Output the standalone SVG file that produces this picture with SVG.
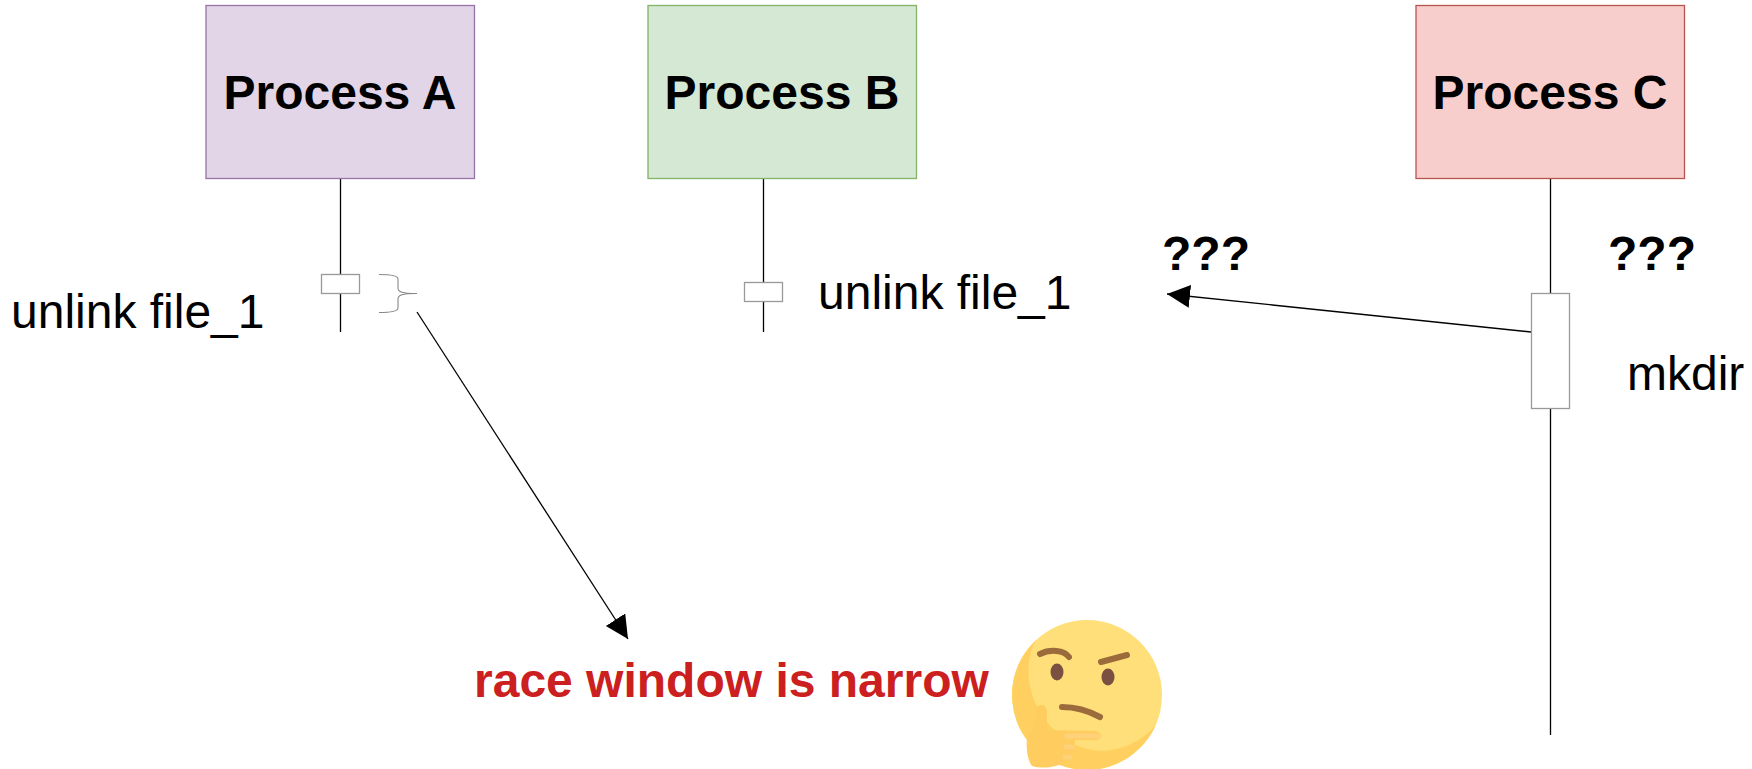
<svg xmlns="http://www.w3.org/2000/svg" width="1752" height="769" viewBox="0 0 1752 769">
<style>
text{font-family:"Liberation Sans",Arial,sans-serif;font-size:48px;fill:#000}
.b{font-weight:bold}
.l{stroke:#000;stroke-width:1.3;fill:none}
.a{fill:#fff;stroke:#999;stroke-width:1.3}
.h{stroke-width:1.3}
</style>
<defs><marker id="arr" markerUnits="userSpaceOnUse" markerWidth="26" markerHeight="26" refX="23" refY="11.500" orient="auto"><path d="M0 0L23 11.500L0 23Z" fill="#000"/></marker></defs>
<rect width="1752" height="769" fill="#fff"/>
<g id="connectors">
<path class="l" d="M340.500 178V332"/>
<path class="l" d="M763.500 178V332"/>
<path class="l" d="M1550.500 178V735"/>
<path class="l" marker-end="url(#arr)" d="M1531 332L1167 294"/>
<path class="l" marker-end="url(#arr)" d="M417 312L628 639"/>
</g>
<g id="process-a"><rect class="h" x="206" y="5.500" width="268.500" height="173" fill="#e1d5e7" stroke="#9673a6"/><text class="b" x="340" y="109" text-anchor="middle">Process A</text></g>
<g id="process-b"><rect class="h" x="648" y="5.500" width="268.500" height="173" fill="#d5e8d4" stroke="#82b366"/><text class="b" x="782" y="109" text-anchor="middle">Process B</text></g>
<g id="process-c"><rect class="h" x="1416" y="5.500" width="268.500" height="173" fill="#f8cecc" stroke="#b85450"/><text class="b" x="1550" y="109" text-anchor="middle">Process C</text></g>
<g id="activation-a"><rect class="a" x="321.500" y="274.500" width="38" height="19"/></g>
<g id="activation-b"><rect class="a" x="744.500" y="282.500" width="38" height="19"/></g>
<g id="activation-c"><rect class="a" x="1531.500" y="293.500" width="38" height="115"/></g>
<g id="brace"><path d="M379 274.500C389 274.500 398 275 398 279V288C398 292 402 293.500 417 293.500C402 293.500 398 295 398 299V308C398 312 389 312.500 379 312.500" fill="none" stroke="#888" stroke-width="1.100"/></g>
<g id="labels">
<text x="11" y="328">unlink file_1</text>
<text x="818" y="309">unlink file_1</text>
<text x="1627" y="390">mkdir</text>
<text class="b" x="1162" y="270">???</text>
<text class="b" x="1608" y="270">???</text>
<text class="b" x="474" y="697" style="fill:#cc2020">race window is narrow</text>
</g>
<g id="emoji">
<circle cx="1087" cy="695" r="75" fill="#ffdf7a"/>
<path d="M1036 640A75 75 0 0 0 1087 770C1118 770 1144 751 1156 725C1130 754 1090 760 1060 735C1030 710 1020 670 1036 640Z" fill="#ffd060"/>
<path d="M1040 654C1050 649 1064 650 1069 657" fill="none" stroke="#9b6b3c" stroke-width="6" stroke-linecap="round"/>
<path d="M1101 662L1127 655" fill="none" stroke="#9b6b3c" stroke-width="6" stroke-linecap="round"/>
<ellipse cx="1057" cy="672" rx="6.500" ry="8.500" fill="#7a5040"/>
<ellipse cx="1108" cy="677" rx="6.500" ry="8.500" fill="#7a5040"/>
<path d="M1062 707C1076 707 1089 711 1100 717" fill="none" stroke="#9b6b3c" stroke-width="6" stroke-linecap="round"/>
<path d="M1036 711C1037 703 1046 703 1047 711V730L1096 731C1103 733 1103 739 1096 740H1075C1074 748 1075 754 1068 760C1058 768 1042 769 1032 766C1027 760 1026 745 1027 740C1029 732 1036 726 1036 718Z" fill="#ffcc60"/>
<path d="M1067 736H1098M1066 747H1072M1065 757H1070" fill="none" stroke="#ffd27a" stroke-width="5" stroke-linecap="round"/>
</g>
</svg>
